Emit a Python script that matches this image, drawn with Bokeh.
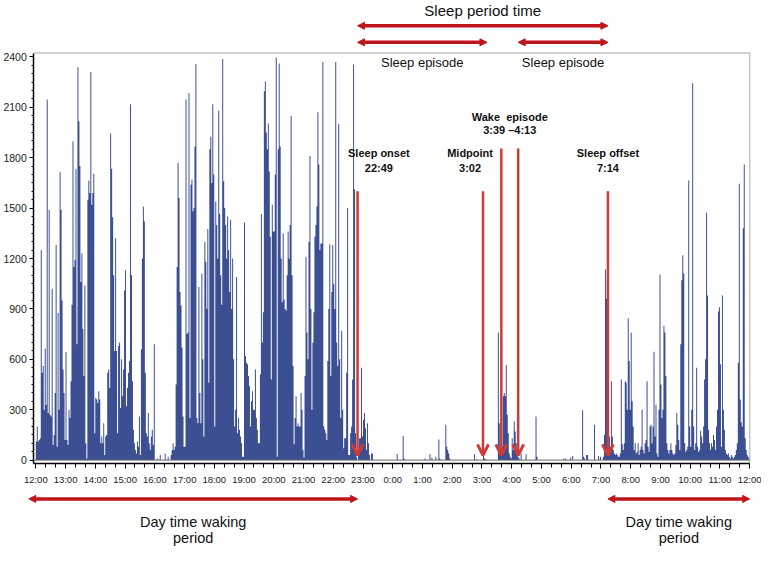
from bokeh.plotting import figure
from bokeh.models import (Range1d, FixedTicker, Label, Arrow, NormalHead, OpenHead,
                          ColumnDataSource)
from bokeh.embed import file_html
from bokeh.resources import INLINE

# ---- activity counts, 2-minute epochs, one list per clock hour (12:00 -> 12:00) ----
h12 = [110, 200, 110, 120, 130, 1250, 520, 560, 300, 665, 330, 2146, 280, 1490, 270,
       260, 1020, 90, 150, 400, 1280, 80, 875, 300, 1713, 1490, 950, 540, 400, 120]
h13 = [644, 120, 90, 300, 250, 470, 925, 1896, 1150, 1190, 1734, 690, 2339, 2015, 1750,
       1060, 1230, 780, 500, 1040, 100, 10, 1550, 1665, 1590, 2310, 1520, 1590, 1705, 160]
h14 = [370, 360, 340, 410, 360, 100, 140, 100, 220, 30, 140, 150, 520, 540, 430,
       1944, 1734, 1445, 1100, 650, 1320, 650, 160, 680, 700, 310, 600, 380, 540, 1010]
h15 = [1130, 320, 430, 520, 590, 2118, 1100, 470, 180, 100, 60, 40, 110, 80, 260,
       30, 660, 1200, 1510, 1420, 520, 160, 140, 280, 100, 60, 140, 180, 90, 690]
h16 = [0, 0, 10, 0, 0, 30, 0, 0, 0, 0, 40, 0, 0, 20, 0,
       0, 30, 60, 100, 60, 80, 450, 1150, 1770, 1560, 1000, 920, 670, 260, 80]
h17 = [80, 2146, 750, 760, 2185, 250, 1640, 1670, 1480, 1500, 1867, 2358, 250, 220, 1030,
       400, 220, 1110, 600, 140, 1300, 1180, 900, 1375, 460, 1850, 1925, 1650, 2118, 1700]
h18 = [200, 1540, 1400, 1200, 2080, 1465, 1100, 925, 2387, 1660, 1500, 1400, 1200, 1450, 1250,
       1000, 1430, 900, 1200, 600, 200, 300, 1090, 160, 250, 180, 140, 100, 20, 20]
h19 = [1415, 620, 580, 570, 500, 440, 200, 350, 410, 300, 300, 540, 250, 180, 100,
       100, 510, 1465, 700, 880, 2195, 2253, 1950, 1850, 2004, 1720, 1330, 480, 1520, 1360]
h20 = [1360, 1700, 2397, 20, 1850, 2360, 1867, 1200, 940, 1350, 955, 900, 890, 1100, 1360,
       1200, 1400, 2050, 1100, 560, 95, 250, 380, 200, 220, 200, 200, 400, 300, 60]
h21 = [15, 500, 1210, 760, 600, 1300, 1810, 900, 300, 700, 880, 1330, 1400, 1510, 2070,
       1760, 1250, 1290, 1290, 2370, 200, 180, 160, 120, 590, 900, 1285, 500, 1000, 1280]
h22 = [1050, 900, 2370, 700, 560, 2000, 600, 250, 770, 300, 70, 130, 130, 520, 1500,
       30, 30, 160, 200, 480, 2355, 1610, 160, 20, 0, 60, 130, 130, 550, 140]
h23 = [240, 280, 190, 60, 220, 100, 30, 0, 40, 40, 0, 0, 0, 0, 0,
       0, 0, 0, 0, 0, 0, 0, 0, 0, 0, 0, 0, 0, 0, 0]
h00 = [0, 0, 0, 0, 36, 0, 0, 0, 0, 0, 143, 10, 0, 0, 0,
       0, 0, 0, 0, 0, 0, 0, 0, 0, 0, 0, 0, 0, 0, 0]
h01 = [0, 0, 10, 0, 0, 0, 0, 35, 0, 15, 0, 0, 0, 20, 0,
       0, 123, 10, 0, 0, 0, 0, 0, 210, 80, 60, 40, 10, 0, 0]
h02 = [0, 0, 0, 0, 0, 0, 0, 0, 0, 0, 0, 0, 0, 0, 0,
       0, 0, 0, 0, 0, 0, 0, 36, 0, 5, 0, 0, 0, 0, 0]
h03 = [0, 40, 10, 5, 0, 0, 0, 0, 0, 0, 0, 0, 0, 0, 0,
       0, 760, 220, 60, 100, 80, 380, 400, 380, 566, 270, 160, 40, 20, 10]
h04 = [130, 60, 230, 170, 100, 60, 20, 10, 0, 40, 0, 0, 0, 0, 35,
       0, 0, 0, 0, 0, 0, 0, 0, 0, 260, 20, 0, 0, 0, 0]
h05 = [0, 0, 0, 0, 0, 0, 0, 0, 0, 0, 0, 0, 0, 0, 0,
       0, 0, 0, 0, 0, 0, 0, 10, 0, 10, 0, 0, 0, 0, 15]
h06 = [0, 25, 0, 0, 0, 0, 0, 0, 0, 0, 0, 297, 20, 10, 0,
       30, 30, 0, 0, 0, 0, 0, 0, 210, 0, 0, 0, 25, 0, 20]
h07 = [0, 0, 20, 150, 1135, 960, 1062, 200, 140, 80, 470, 140, 60, 40, 30,
       40, 30, 20, 20, 40, 480, 95, 60, 100, 470, 460, 300, 845, 590, 300]
h08 = [760, 350, 200, 60, 100, 40, 50, 100, 30, 60, 80, 300, 60, 40, 100,
       120, 470, 80, 50, 200, 210, 100, 200, 645, 140, 330, 40, 20, 300, 1105]
h09 = [450, 250, 300, 800, 760, 500, 100, 60, 40, 60, 100, 60, 40, 30, 40,
       90, 280, 210, 120, 60, 690, 1070, 1220, 1110, 100, 50, 60, 80, 1665, 200]
h10 = [80, 300, 2243, 200, 60, 100, 550, 80, 50, 60, 175, 140, 100, 200, 480,
       600, 1474, 980, 180, 100, 60, 100, 80, 150, 120, 60, 200, 300, 885, 910]
h11 = [570, 80, 980, 300, 180, 60, 40, 30, 40, 20, 10, 30, 20, 10, 20,
       30, 60, 100, 580, 1645, 360, 225, 200, 1380, 1760, 130, 60, 30, 20, 10]

hour_blocks = [h12, h13, h14, h15, h16, h17, h18, h19, h20, h21, h22, h23,
               h00, h01, h02, h03, h04, h05, h06, h07, h08, h09, h10, h11]

hour_labels = ["12:00", "13:00", "14:00", "15:00", "16:00", "17:00", "18:00",
               "19:00", "20:00", "21:00", "22:00", "23:00", "0:00", "1:00",
               "2:00", "3:00", "4:00", "5:00", "6:00", "7:00", "8:00", "9:00",
               "10:00", "11:00", "12:00"]
y_ticks = [0, 300, 600, 900, 1200, 1500, 1800, 2100, 2400]

# event times (clock)
sleep_onset = "22:49"
midpoint = "3:02"
wake_start = "3:39"
wake_end = "4:13"
sleep_offset = "7:14"
episode1_arrow_end = "3:10"
day_arrow_start_min = -14  # minutes before 12:00


def to_min(s):
    h, m = (int(v) for v in s.split(":"))
    return ((h - 12) % 24) * 60 + m


EPOCH = 2
counts = [c for block in hour_blocks for c in block]
xs = [i * EPOCH for i in range(len(counts))] + [len(counts) * EPOCH]
ys = counts + [counts[-1]]
src = ColumnDataSource(dict(x=xs, y=ys))

# ---- layout: whole canvas is the frame; pixel anchors of the chart area ----
W, H = 761, 547
X0_PX, X1_PX = 35.3, 749.2     # 12:00 .. 12:00
Y0_PX, Y2400_PX = 459.6, 56.4  # count 0 .. count 2400
PPM = (X1_PX - X0_PX) / 1440.0
PPU = (Y0_PX - Y2400_PX) / 2400.0


def yc(px):   # canvas pixel row -> count units
    return (Y0_PX - px) / PPU


AXIS_X = -2.0 / PPM          # y axis sits ~2px left of first epoch
AXIS_Y = yc(462.5)           # x axis line
TOP_Y = yc(52.5)             # grey frame top

p = figure(width=W, height=H,
           x_range=Range1d(-X0_PX / PPM, (W - X0_PX) / PPM),
           y_range=Range1d(yc(H), yc(0)),
           output_backend="svg", toolbar_location=None, min_border=0)
p.xgrid.visible = False
p.ygrid.visible = False
p.outline_line_color = None
p.background_fill_color = "white"
p.border_fill_color = "white"

BAR = "#3c4f93"
p.varea_step(x="x", y1=0, y2="y", step_mode="after", source=src,
             fill_color=BAR, fill_alpha=1.0)
p.line(x=[AXIS_X, 1440, 1440], y=[TOP_Y, TOP_Y, AXIS_Y], line_color="#c4c4c4", line_width=1.5)
p.line(x=[AXIS_X, 1440], y=[0, 0], line_color="#666666", line_width=1)

FONT = "Liberation Sans"
xa = p.xaxis[0]
ya = p.yaxis[0]
xa.fixed_location = AXIS_Y
ya.fixed_location = AXIS_X
xa.bounds = (AXIS_X, 1440)
ya.bounds = (AXIS_Y, TOP_Y)
xa.ticker = FixedTicker(ticks=[60 * i for i in range(25)],
                        minor_ticks=[20 * i for i in range(73)])
xa.major_label_overrides = {60 * i: lab for i, lab in enumerate(hour_labels)}
ya.ticker = FixedTicker(ticks=y_ticks, minor_ticks=list(range(0, 2401, 50)))
for ax in (xa, ya):
    ax.axis_line_color = "black"
    ax.axis_line_width = 1.5
    ax.major_tick_line_color = "black"
    ax.minor_tick_line_color = "black"
    ax.major_tick_in = 0
    ax.minor_tick_in = 0
    ax.major_label_text_font = FONT
    ax.major_label_text_color = "#222222"
xa.major_tick_out = 5
xa.minor_tick_out = 4
xa.major_label_text_font_size = "9.5px"
xa.major_label_standoff = 6
ya.major_tick_out = 4
ya.minor_tick_out = 2
ya.major_label_text_font_size = "10.5px"
ya.major_label_standoff = 3

RED_DARK = "#c0141b"
RED = "#d13b35"


def harrow(x0, x1, y):
    p.add_layout(Arrow(start=NormalHead(size=7, fill_color=RED_DARK, line_color=RED_DARK),
                       end=NormalHead(size=7, fill_color=RED_DARK, line_color=RED_DARK),
                       x_start=x0, x_end=x1, y_start=y, y_end=y,
                       line_color=RED_DARK, line_width=3.5))


def varrow(x, ytop):
    p.add_layout(Arrow(end=OpenHead(size=11, line_color=RED, line_width=3),
                       x_start=x, x_end=x, y_start=ytop, y_end=28,
                       line_color=RED, line_width=2.5))


def label(x, y, text, size, bold=False):
    p.add_layout(Label(x=x, y=y, text=text, text_align="center", text_baseline="middle",
                       text_font=FONT, text_font_size=size,
                       text_font_style="bold" if bold else "normal",
                       text_color="#111111"))


t_on, t_mid = to_min(sleep_onset), to_min(midpoint)
t_ws, t_we = to_min(wake_start), to_min(wake_end)
t_off = to_min(sleep_offset)
t_e1 = to_min(episode1_arrow_end)

# header
label((t_on + t_off) / 2, yc(10), "Sleep period time", "15px")
harrow(t_on, t_off, yc(25.3))
harrow(t_on, t_e1, yc(41.8))
harrow(t_we, t_off, yc(41.8))
label((t_on + t_e1) / 2, yc(62), "Sleep episode", "13px")
label((t_we + t_off) / 2, yc(62), "Sleep episode", "13px")

# event markers
varrow(t_on, 1600)
varrow(t_mid, 1600)
varrow(t_ws, 1855)
varrow(t_we, 1855)
varrow(t_off, 1600)
label(t_on + 43, 1827, "Sleep onset", "11px", True)
label(t_on + 43, 1740, sleep_onset, "11px", True)
label(t_mid - 26, 1827, "Midpoint", "11px", True)
label(t_mid - 26, 1740, midpoint, "11px", True)
label((t_ws + t_we) / 2, 2040, "Wake\u00a0\u00a0episode", "11px", True)
label((t_ws + t_we) / 2, 1965, wake_start + " \u2013" + wake_end, "11px", True)
label(t_off, 1827, "Sleep offset", "11px", True)
label(t_off, 1740, sleep_offset, "11px", True)

# footer
harrow(day_arrow_start_min, t_on, yc(498.4))
harrow(t_off, 1440, yc(498.4))
for xm in ((day_arrow_start_min + t_on) / 2, (t_off + 1440) / 2):
    label(xm, yc(521.8), "Day time waking", "14.5px")
    label(xm, yc(537.3), "period", "14.5px")

open("out.html", "w").write(file_html(p, INLINE))
